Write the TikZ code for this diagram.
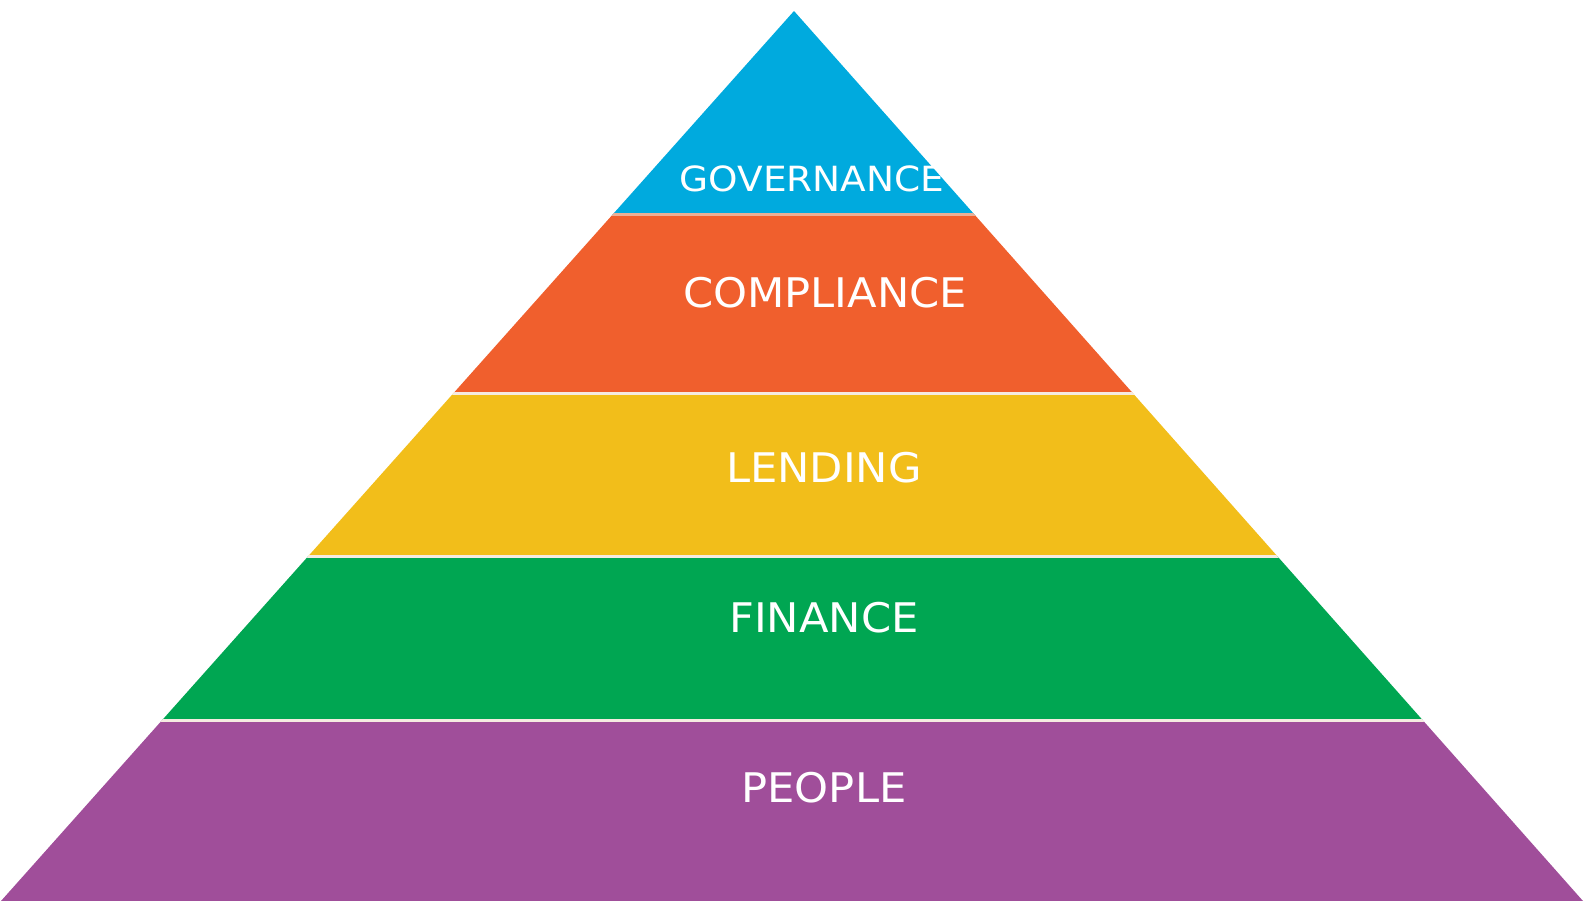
\documentclass[tikz,border=0pt]{standalone}
\usepackage{fontspec}
\setmainfont{DejaVu Sans}
\definecolor{cgov}{RGB}{0,170,222}
\definecolor{ccomp}{RGB}{240,95,45}
\definecolor{clend}{RGB}{242,190,26}
\definecolor{cfin}{RGB}{0,166,82}
\definecolor{cpeo}{RGB}{160,78,154}
\definecolor{csep}{RGB}{245,235,225}
\definecolor{csepgov}{RGB}{235,175,150}
\tikzset{
  sepline/.style={draw=csep, line width=3pt},
  label/.style={text=white, inner sep=0pt, anchor=center, font=\fontsize{40.8}{48}\selectfont, xscale=1.06},
  smalllabel/.style={text=white, inner sep=0pt, anchor=center, font=\fontsize{34.7}{42}\selectfont, xscale=1.08}
}
\begin{document}
\begin{tikzpicture}[x=1pt,y=-1pt]
\useasboundingbox (0,0) rectangle (1588,901);
\coordinate (apex) at (794,11);
\coordinate (bl) at (1,901);
\coordinate (br) at (1583,901);
\begin{scope}
\clip (apex) -- (br) -- (bl) -- cycle;
\fill[cgov] (0,0) rectangle (1588,215);
\fill[ccomp] (0,215) rectangle (1588,393);
\fill[clend] (0,393) rectangle (1588,556);
\fill[cfin] (0,556) rectangle (1588,720);
\fill[cpeo] (0,720) rectangle (1588,901);
\draw[sepline, draw=csepgov] (0,215) -- (1588,215);
\draw[sepline] (0,393) -- (1588,393);
\draw[sepline] (0,556) -- (1588,556);
\draw[sepline] (0,720) -- (1588,720);
\end{scope}
\node[smalllabel] (gov) at (812,179) {GOVERNANCE};
\node[label] (comp) at (825,293) {COMPLIANCE};
\node[label] (lend) at (824,468) {LENDING};
\node[label] (fin) at (824,618) {FINANCE};
\node[label] (peo) at (824,788) {PEOPLE};
\end{tikzpicture}
\end{document}
